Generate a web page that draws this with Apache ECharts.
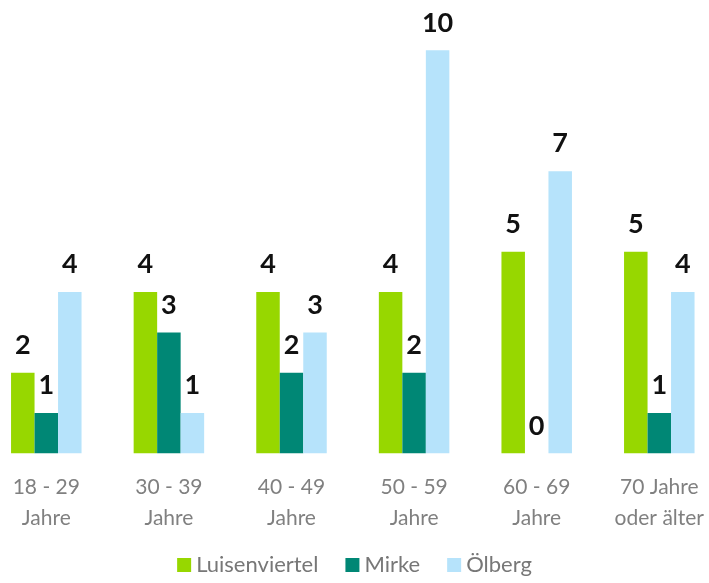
<!DOCTYPE html>
<html>
<head>
<meta charset="utf-8">
<script src="https://cdn.jsdelivr.net/npm/echarts@6/dist/echarts.min.js"></script>
<style>
  html, body { margin: 0; padding: 0; background: #fff; }
  #chart { width: 709px; height: 583px; }
</style>
</head>
<body>
<div id="chart"></div>
<script>
  const categories = ["18 - 29\nJahre", "30 - 39\nJahre", "40 - 49\nJahre", "50 - 59\nJahre", "60 - 69\nJahre", "70 Jahre\noder älter"];
  const luisenviertel = [2, 4, 4, 4, 5, 5];
  const mirke = [1, 3, 2, 2, 0, 1];
  const oelberg = [4, 1, 3, 10, 7, 4];

  const FONT = "Lato, 'Noto Sans', sans-serif";
  const chart = echarts.init(document.getElementById("chart"));

  function bar(name, data, color) {
    return {
      name,
      type: "bar",
      data,
      barWidth: 23.5,
      barGap: "0%",
      itemStyle: { color },
      label: {
        show: true,
        position: "top",
        distance: 14,
        color: "#111",
        fontFamily: FONT,
        fontWeight: "bold",
        fontSize: 27,
      },
    };
  }

  chart.setOption({
    animation: false,
    grid: {
      left: -15, right: -11.6, top: 50.3, bottom: 129.7,
      containLabel: false,
      outerBoundsMode: "none",
    },
    legend: {
      bottom: 2,
      left: "center",
      icon: "rect",
      itemWidth: 14,
      itemHeight: 14,
      itemGap: 27,
      textStyle: { color: "#777", fontSize: 22, fontFamily: FONT },
    },
    xAxis: {
      type: "category",
      data: categories,
      axisLine: { show: false },
      axisTick: { show: false },
      axisLabel: {
        color: "#808080",
        fontSize: 21,
        lineHeight: 31,
        margin: 18,
        fontFamily: FONT,
        interval: 0,
      },
    },
    yAxis: {
      type: "value",
      min: 0,
      max: 10,
      show: false,
      splitLine: { show: false },
    },
    series: [
      bar("Luisenviertel", luisenviertel, "#97D700"),
      bar("Mirke", mirke, "#008775"),
      bar("Ölberg", oelberg, "#B6E3FB"),
    ],
  });
</script>
</body>
</html>
